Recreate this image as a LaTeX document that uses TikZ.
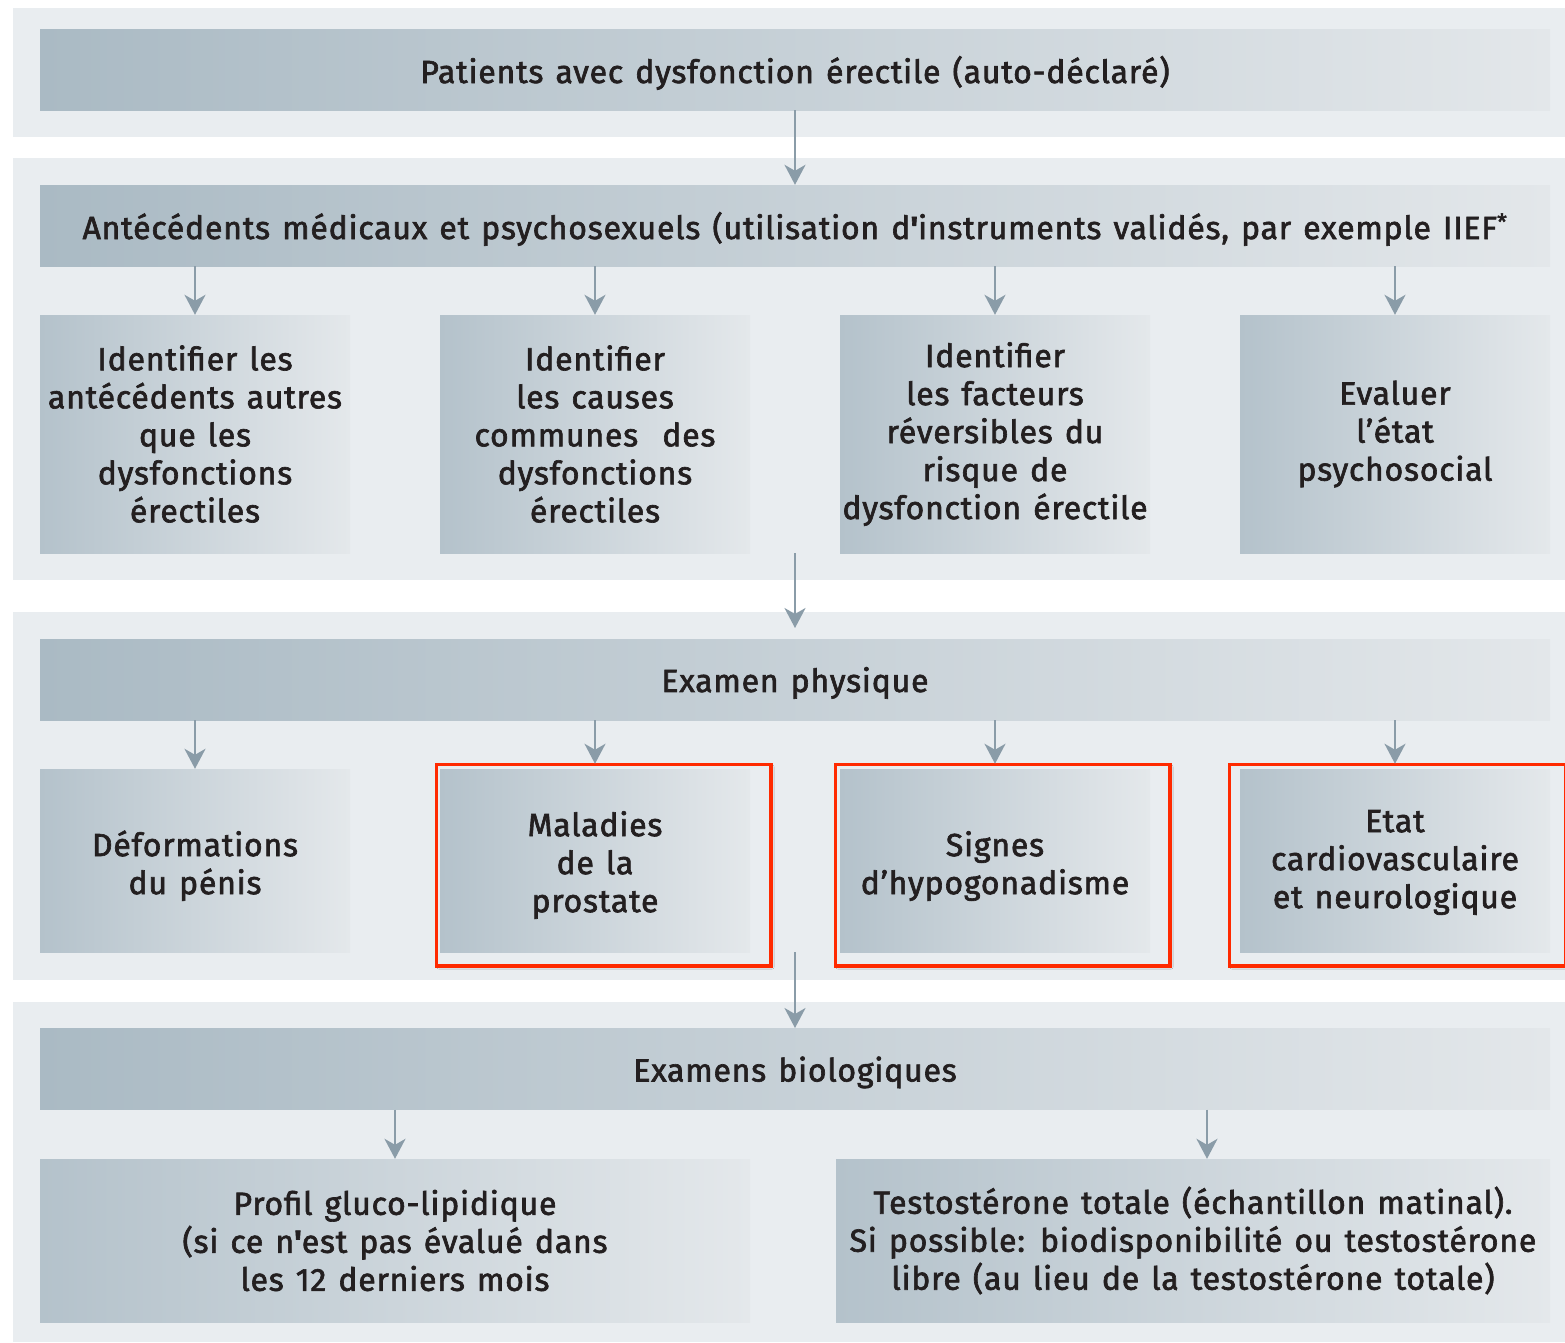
\documentclass[tikz,border=0pt]{standalone}
\usepackage{fontspec}
\setmainfont{Fira Sans}[LetterSpace=2.5, WordSpace=1.3, BoldFont={Fira Sans}, BoldFeatures={FakeBold=2}]
\newfontfamily\apfont{Fira Sans}[FakeBold=2]
\usetikzlibrary{arrows.meta,shadows.blur}
\definecolor{panelbg}{HTML}{E9EDF0}
\definecolor{hdrL}{HTML}{AABAC4}
\definecolor{hdrR}{HTML}{E3E7EA}
\definecolor{boxL}{HTML}{B4C2CB}
\definecolor{boxR}{HTML}{E4E8EB}
\definecolor{arrc}{HTML}{8A9CA8}
\definecolor{txt}{HTML}{231F20}
\definecolor{framered}{HTML}{FF2A00}
\newcommand{\ap}{{\apfont\char"0027}}
\newcommand{\dn}[2]{\raisebox{-#1}[\height][\depth]{\begin{tabular}{@{}c@{}}#2\end{tabular}}}
\tikzset{
  lbl/.style={font=\fontsize{32}{38}\selectfont\bfseries, text=txt, align=center, inner sep=0pt},
  hdr/.style={lbl, left color=hdrL, right color=hdrR, minimum width=1510pt, minimum height=81pt, text depth=0pt},
  stepbox/.style={lbl, left color=boxL, right color=boxR, minimum width=310pt},
  redframe/.style={draw=framered, line width=2.5pt, fill=panelbg, inner sep=0pt,
     blur shadow={shadow xshift=2pt, shadow yshift=-2pt, shadow blur steps=6, shadow opacity=45}},
  arr/.style={draw=arrc, line width=2.5pt, -{Stealth[length=20pt, width=21pt, inset=6pt]}},
}
\begin{document}
\begin{tikzpicture}[x=1pt,y=-1pt]
\useasboundingbox (0,0) rectangle (1565,1342);
\fill[white] (0,0) rectangle (1565,1342);
% panels
\fill[panelbg] (13,8) rectangle (1565,137);
\fill[panelbg] (13,158) rectangle (1565,580);
\fill[panelbg] (13,612) rectangle (1565,980);
\fill[panelbg] (13,1002) rectangle (1565,1342);

% headers
\node[hdr] (h1) at (795,69.5) {Patients avec dysfonction érectile (auto-déclaré)};
\node[hdr] (h2) at (795,225.5) {Antécédents médicaux et psychosexuels (utilisation d\ap instruments validés, par exemple IIEF\textsuperscript{*}};
\node[hdr] (h3) at (795,679.5) {Examen physique};
\node[hdr] (h4) at (795,1069) {Examens biologiques};

% row 2
\node[stepbox, minimum height=238pt] (a1) at (195,434) {Identifier les\\antécédents autres\\que les\\dysfonctions\\érectiles};
\node[stepbox, minimum height=238pt] (a2) at (595,434) {Identifier\\les causes\\communes\ \ des\\dysfonctions\\érectiles};
\node[stepbox, minimum height=238pt] (a3) at (995,434) {Identifier\\les facteurs\\réversibles du\\risque de\\dysfonction érectile};
\node[stepbox, minimum height=238pt] (a4) at (1395,434) {Evaluer\\l’état\\psychosocial};

% row 3 frames
\node[redframe, minimum width=333pt, minimum height=200pt] (f2) at (603.5,865) {};
\node[redframe, minimum width=333pt, minimum height=200pt] (f3) at (1002.5,865) {};
\node[redframe, minimum width=335pt, minimum height=200pt] (f4) at (1397.5,865) {};

\node[stepbox, minimum height=183pt] (e1) at (195,860.5) {\dn{7pt}{Déformations\\du pénis}};
\node[stepbox, minimum height=183pt] (e2) at (595,860.5) {\dn{6pt}{Maladies\\de la\\prostate}};
\node[stepbox, minimum height=183pt] (e3) at (995,860.5) {\dn{7pt}{Signes\\d’hypogonadisme}};
\node[stepbox, minimum height=183pt] (e4) at (1395,860.5) {\dn{2pt}{Etat\\cardiovasculaire\\et neurologique}};
% redraw frame borders on top
\foreach \f in {f2,f3,f4}{\draw[draw=framered, line width=2.5pt] (\f.north west) rectangle (\f.south east);}

% row 4
\node[stepbox, minimum width=710pt, minimum height=163pt] (b1) at (395,1240.5) {Profil gluco-lipidique\\(si ce n\ap est pas évalué dans\\les 12 derniers mois};
\node[stepbox, minimum width=714pt, minimum height=163pt] (b2) at (1193,1240.5) {Testostérone totale (échantillon matinal).\\Si possible: biodisponibilité ou testostérone\\libre (au lieu de la testostérone totale)};

% connectors
\draw[arr] (h1.south) -- (h2.north);
\foreach \n in {a1,a2,a3,a4}{\draw[arr] (h2.south -| \n.north) -- (\n.north);}
\coordinate (s2) at (795,553);
\coordinate (t2) at (795,628);
\draw[arr] (s2) -- (t2);
\draw[arr] (h3.south -| e1.north) -- (e1.north);
\draw[arr] (h3.south -| e2.north) -- (e2.north |- f2.north);
\draw[arr] (h3.south -| e3.north) -- (e3.north |- f3.north);
\draw[arr] (h3.south -| e4.north) -- (e4.north |- f4.north);
\coordinate (s3) at (795,952);
\coordinate (t3) at (795,1028);
\draw[arr] (s3) -- (t3);
\draw[arr] (h4.south -| b1.north) -- (b1.north);
\draw[arr] ([xshift=14pt]b2.north |- h4.south) -- ([xshift=14pt]b2.north);
\end{tikzpicture}
\end{document}
